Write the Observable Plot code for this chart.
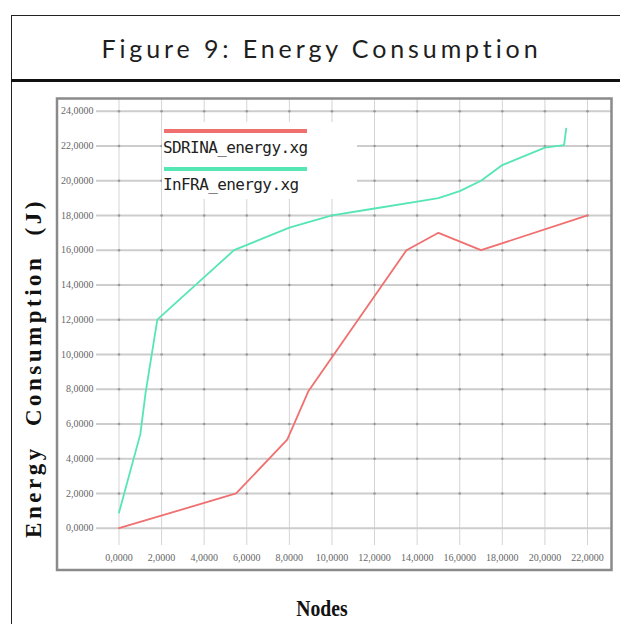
<!DOCTYPE html>
<html><head><meta charset="utf-8">
<script src="https://cdn.jsdelivr.net/npm/d3@7"></script>
<script src="https://cdn.jsdelivr.net/npm/@observablehq/plot@0.6"></script>
<style>
html,body{margin:0;padding:0;background:#fff;}
#page{position:relative;width:620px;height:624px;overflow:hidden;}
#box{position:absolute;left:11px;top:14.5px;width:700px;height:700px;border-left:1.5px solid #222;border-top:1.5px solid #222;}
#divider{position:absolute;left:11px;top:79px;width:700px;height:2.5px;background:#111;}
#title{position:absolute;left:0;width:643px;top:36px;text-align:center;font-family:Lato,"Open Sans",sans-serif;font-size:25px;line-height:25px;letter-spacing:3.9px;color:#1e1e1e;white-space:nowrap;}
#chart{position:absolute;left:0;top:82px;}
#legendbox{position:absolute;left:162px;top:122px;width:195px;height:77px;background:#fff;}
.lg-line{position:absolute;left:164px;width:143px;height:3.5px;}
.lg-text{position:absolute;left:163px;font-family:"DejaVu Sans Mono",monospace;font-size:16px;line-height:16px;letter-spacing:-0.6px;color:#222;white-space:nowrap;}
#ylabel{position:absolute;left:33px;top:368px;transform:translate(-50%,-50%) rotate(-90deg);font-family:"Liberation Serif","Times New Roman",serif;font-weight:bold;font-size:23px;line-height:23px;letter-spacing:3.5px;word-spacing:10px;color:#111;white-space:nowrap;}
#xlabel{position:absolute;left:322px;top:608px;transform:translate(-50%,-50%) scaleX(0.82);font-family:"Liberation Serif","Times New Roman",serif;font-weight:bold;font-size:24px;line-height:24px;color:#111;white-space:nowrap;}
</style></head>
<body>
<div id="page">
  <div id="box"></div>
  <div id="divider"></div>
  <div id="title">Figure 9: Energy Consumption</div>
  <div id="chart"></div>
  <div id="legendbox"></div>
  <div class="lg-line" id="lgRed" style="top:129px;"></div>
  <div class="lg-text" style="top:139.5px;">SDRINA_energy.xg</div>
  <div class="lg-line" id="lgGreen" style="top:167px;"></div>
  <div class="lg-text" style="top:176.5px;">InFRA_energy.xg</div>
  <div id="ylabel">Energy Consumption (J)</div>
  <div id="xlabel">Nodes</div>
</div>
<script>
// ---- data ----
const seriesNames = ["SDRINA_energy.xg", "InFRA_energy.xg"];
const seriesColors = ["#f07070", "#55e6b4"];

const sdrinaX = [0, 5.5, 7.9, 8.9, 13.5, 15, 17, 22];
const sdrinaY = [0, 2, 5.1, 7.9, 16, 17, 16, 18];

const infraX = [0, 1.0, 1.25, 1.8, 3.6, 5.4, 8.0, 10, 12, 14, 15, 16, 17, 18, 20, 20.9, 21.0];
const infraY = [0.9, 5.4, 7.8, 12, 14, 16, 17.3, 18, 18.4, 18.8, 19, 19.4, 20, 20.9, 21.9, 22.05, 23.0];

const xTicks = [0, 2, 4, 6, 8, 10, 12, 14, 16, 18, 20, 22];
const yTicks = [0, 2, 4, 6, 8, 10, 12, 14, 16, 18, 20, 22, 24];

// ---- build tables ----
const sdrina = sdrinaX.map((x, i) => ({x, y: sdrinaY[i]}));
const infra = infraX.map((x, i) => ({x, y: infraY[i]}));
const crossings = d3.cross(xTicks, yTicks.slice(1)).map(([x, y]) => ({x, y}));
const fmt = d => d3.format(".4f")(d).replace(".", ",");

document.getElementById("lgRed").style.background = seriesColors[0];
document.getElementById("lgGreen").style.background = seriesColors[1];

const chart = Plot.plot({
  width: 620,
  height: 542,
  marginLeft: 56.5,
  marginRight: 9,
  marginTop: 16,
  marginBottom: 54.5,
  x: {domain: [0, 22], range: [118.5, 587], axis: null},
  y: {domain: [0, 24], range: [445.7, 28.7], axis: null},
  style: {background: "transparent", overflow: "visible"},
  marks: [
    Plot.ruleX(xTicks, {x: d => d, stroke: "#d4d4d4", strokeWidth: 1, insetBottom: 24.5}),
    Plot.ruleY(yTicks, {y: d => d, stroke: "#cdcdcd", strokeWidth: 2, insetLeft: 39.5}),
    Plot.dot(crossings, {x: "x", y: "y", r: 1.3, fill: "#9a9a9a", stroke: null}),
    Plot.text(yTicks, {y: d => d, text: fmt, frameAnchor: "left", dx: 36.5, textAnchor: "end",
      fill: "#666", fontSize: 10, fontFamily: "Liberation Serif, serif"}),
    Plot.text(xTicks, {x: d => d, text: fmt, frameAnchor: "bottom", dy: -9.5,
      fill: "#666", fontSize: 10, fontFamily: "Liberation Serif, serif"}),
    Plot.line(sdrina, {x: "x", y: "y", stroke: seriesColors[0], strokeWidth: 1.8}),
    Plot.line(infra, {x: "x", y: "y", stroke: seriesColors[1], strokeWidth: 1.8}),
    Plot.frame({stroke: "#8a8a8a", strokeWidth: 2.5})
  ]
});
document.getElementById("chart").appendChild(chart);
</script>
</body></html>
